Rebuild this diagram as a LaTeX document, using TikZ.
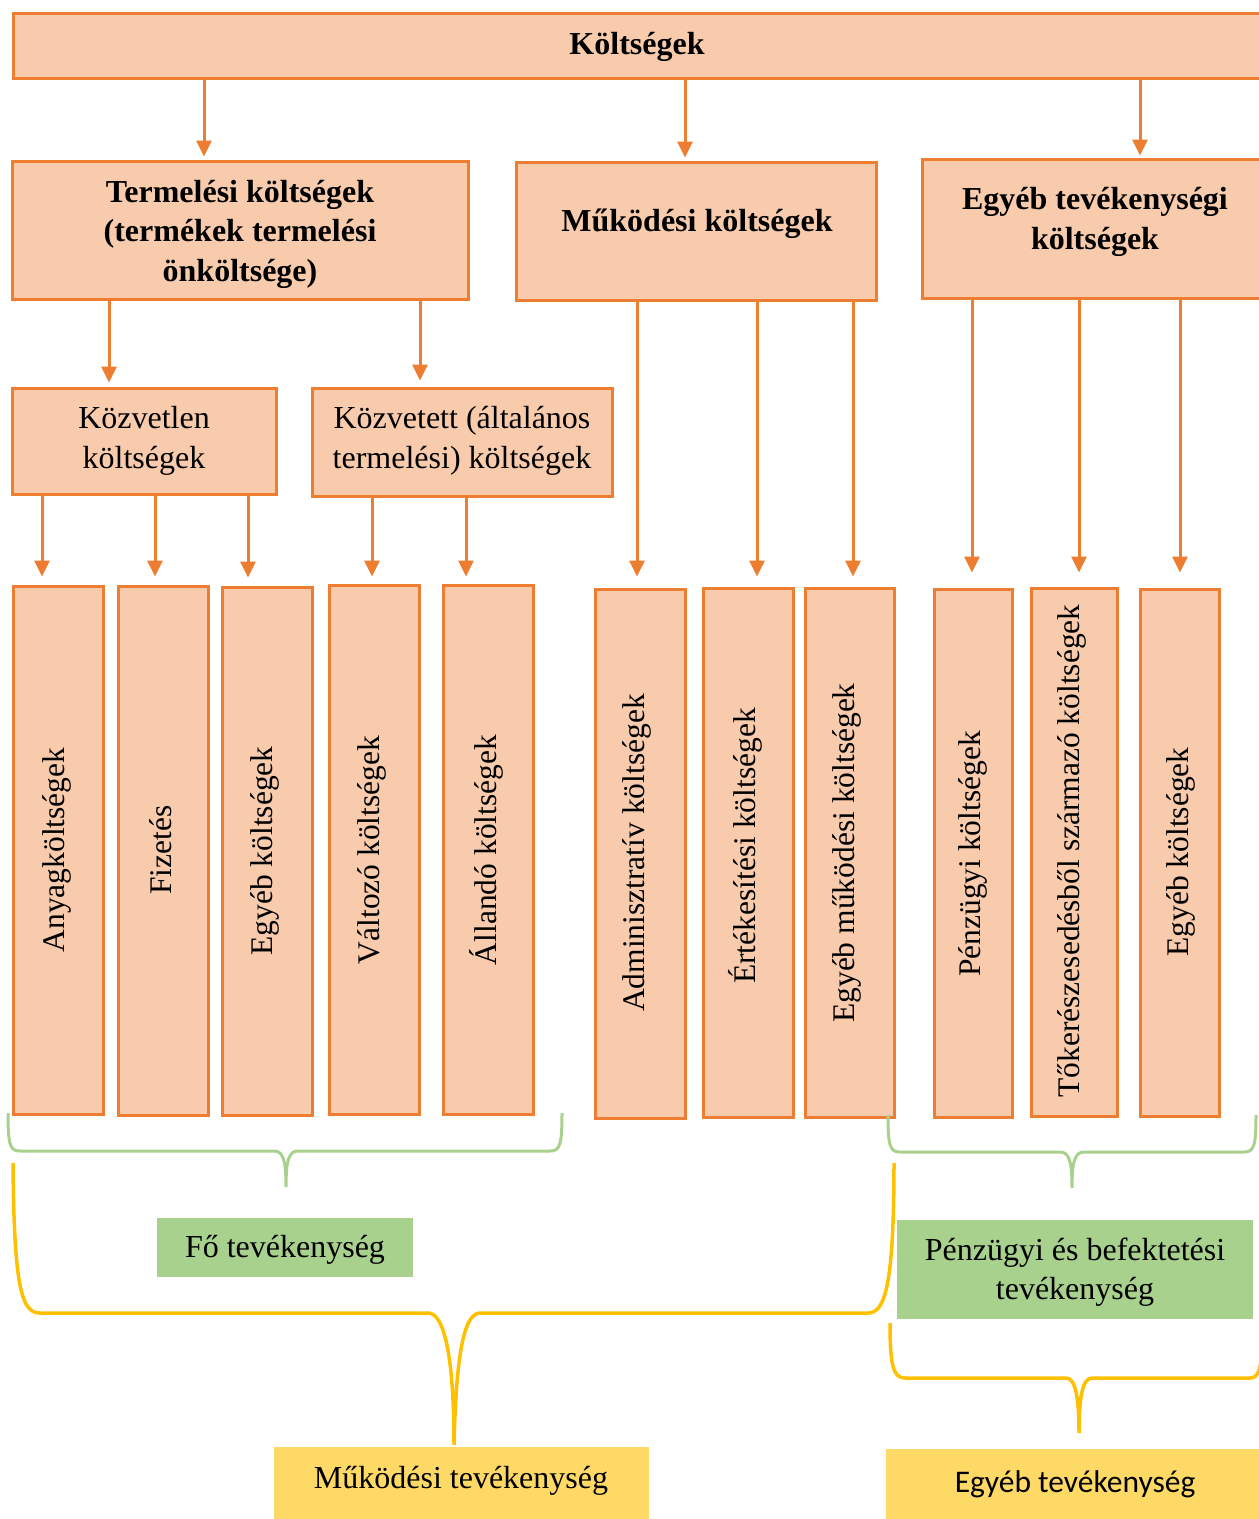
\documentclass[tikz,border=0pt]{standalone}
\usepackage{fontspec}
\setmainfont{Liberation Serif}
\newfontfamily\calib{Carlito}
\usetikzlibrary{arrows.meta}
\definecolor{oline}{HTML}{ED7D31}
\definecolor{ofill}{HTML}{F8CBAD}
\definecolor{gfill}{HTML}{A9D18E}
\definecolor{yfill}{HTML}{FFD966}
\definecolor{yline}{HTML}{FFC000}
\tikzset{
  obox/.style={draw=oline, fill=ofill, line width=3pt, inner sep=0pt},
  gbox/.style={fill=gfill, inner sep=0pt},
  ybox/.style={fill=yfill, inner sep=0pt},
  txt/.style={font=\fontsize{32}{39.5}\selectfont, align=center, inner sep=0pt},
  btxt/.style={font=\fontsize{32}{39.5}\selectfont\bfseries, align=center, inner sep=0pt},
  vtxt/.style={font=\fontsize{31.5}{38}\selectfont, rotate=90, inner sep=0pt},
  arr/.style={draw=oline, line width=3pt, -{Triangle[width=15pt,length=16pt]}, oline},
  gbrace/.style={draw=gfill, line width=3pt},
  ybrace/.style={draw=yline, line width=3.5pt},
}
\begin{document}
\begin{tikzpicture}[x=1pt,y=-1pt]
\path[use as bounding box] (0,0) rectangle (1259,1519);
\clip (0,0) rectangle (1259,1519);

% top level
\node[obox, minimum width=1252pt, minimum height=65pt] (top) at (639,45.5) {};
\node[btxt] (toptxt) at (637,47) {Költségek};

% second level
\node[obox, minimum width=456pt, minimum height=138pt] (term) at (240,230) {};
\node[btxt] (termtxt) at (240,234) {Termelési költségek\\(termékek termelési\\önköltsége)};
\node[obox, minimum width=360pt, minimum height=138pt] (muk) at (696,231) {};
\node[btxt] (muktxt) at (697,224) {Működési költségek};
\node[obox, minimum width=343pt, minimum height=139pt] (egy) at (1093.5,228.5) {};
\node[btxt] (egytxt) at (1095,222) {Egyéb tevékenységi\\költségek};

% third level
\node[obox, minimum width=264pt, minimum height=106pt] (kozv) at (144,441) {};
\node[txt] (kozvtxt) at (144,441) {Közvetlen\\költségek};
\node[obox, minimum width=300pt, minimum height=108pt] (kozt) at (462,442) {};
\node[txt] (kozttxt) at (462,441) {Közvetett (általános\\termelési) költségek};

% vertical boxes
\node[obox, minimum width=90pt, minimum height=528pt] (v1) at (58,850) {};
\node[vtxt] (t1) at (57,850) {Anyagköltségek};
\node[obox, minimum width=90pt, minimum height=529pt] (v2) at (163,850.5) {};
\node[vtxt] (t2) at (161,850) {Fizetés};
\node[obox, minimum width=90pt, minimum height=528pt] (v3) at (267,851) {};
\node[vtxt] (t3) at (265,851) {Egyéb költségek};
\node[obox, minimum width=90pt, minimum height=529pt] (v4) at (374,849.5) {};
\node[vtxt] (t4) at (372,850) {Változó költségek};
\node[obox, minimum width=90pt, minimum height=529pt] (v5) at (488,849.5) {};
\node[vtxt] (t5) at (486,850) {Állandó költségek};
\node[obox, minimum width=90pt, minimum height=529pt] (v6) at (640,853.5) {};
\node[vtxt] (t6) at (637,853) {Adminisztratív költségek};
\node[obox, minimum width=90pt, minimum height=529pt] (v7) at (748,852.5) {};
\node[vtxt] (t7) at (745,846) {Értékesítési költségek};
\node[obox, minimum width=89pt, minimum height=529pt] (v8) at (849.5,852.5) {};
\node[vtxt] (t8) at (847,853) {Egyéb működési költségek};
\node[obox, minimum width=78pt, minimum height=528pt] (v9) at (973,853) {};
\node[vtxt] (t9) at (973,854) {Pénzügyi költségek};
\node[obox, minimum width=86pt, minimum height=528pt] (v10) at (1074,852) {};
\node[vtxt] (t10) at (1072,851) {Tőkerészesedésből származó költségek};
\node[obox, minimum width=79pt, minimum height=527pt] (v11) at (1179.5,852.5) {};
\node[vtxt] (t11) at (1181,852) {Egyéb költségek};

% arrows
\draw[arr, shorten >=3pt] (top.south -| 204,0) -- (term.north -| 204,0);
\draw[arr, shorten >=3pt] (top.south -| 685,0) -- (muk.north -| 685,0);
\draw[arr, shorten >=2pt] (top.south -| 1140,0) -- (egy.north -| 1140,0);
\draw[arr, shorten >=4pt] (term.south -| 109,0) -- (kozv.north -| 109,0);
\draw[arr, shorten >=6pt] (term.south -| 420,0) -- (kozt.north -| 420,0);
\draw[arr, shorten >=8pt] (kozv.south -| 42,0) -- (v1.north -| 42,0);
\draw[arr, shorten >=8pt] (kozv.south -| 155,0) -- (v2.north -| 155,0);
\draw[arr, shorten >=8pt] (kozv.south -| 248,0) -- (v3.north -| 248,0);
\draw[arr, shorten >=7pt] (kozt.south -| 372,0) -- (v4.north -| 372,0);
\draw[arr, shorten >=7pt] (kozt.south -| 466,0) -- (v5.north -| 466,0);
\draw[arr, shorten >=11pt] (muk.south -| 637,0) -- (v6.north -| 637,0);
\draw[arr, shorten >=10pt] (muk.south -| 757,0) -- (v7.north -| 757,0);
\draw[arr, shorten >=10pt] (muk.south -| 853,0) -- (v8.north -| 853,0);
\draw[arr, shorten >=15pt] (egy.south -| 972,0) -- (v9.north -| 972,0);
\draw[arr, shorten >=14pt] (egy.south -| 1079,0) -- (v10.north -| 1079,0);
\draw[arr, shorten >=15pt] (egy.south -| 1180,0) -- (v11.north -| 1180,0);

% green braces
\draw[gbrace] (8,1113) .. controls (8,1145) and (10,1151) .. (20,1151) -- (274,1151)
  .. controls (283,1151) and (286,1160) .. (286,1187)
  .. controls (286,1160) and (289,1151) .. (298,1151) -- (550,1151)
  .. controls (560,1151) and (562,1145) .. (562,1113);
\draw[gbrace] (888,1115) .. controls (888,1146) and (890,1152) .. (900,1152) -- (1060,1152)
  .. controls (1069,1152) and (1072,1161) .. (1072,1188)
  .. controls (1072,1161) and (1075,1152) .. (1084,1152) -- (1244,1152)
  .. controls (1254,1152) and (1256,1146) .. (1256,1115);

% yellow braces
\draw[ybrace] (13,1163) .. controls (14,1290) and (22,1313) .. (40,1313) -- (428,1313)
  .. controls (445,1313) and (454,1360) .. (454,1445)
  .. controls (456,1360) and (463,1313) .. (480,1313) -- (868,1313)
  .. controls (884,1313) and (894,1290) .. (894,1163);
\draw[ybrace] (890,1323) .. controls (890,1365) and (893,1378) .. (905,1378) -- (1066,1378)
  .. controls (1075,1378) and (1079,1395) .. (1079,1433)
  .. controls (1079,1395) and (1083,1378) .. (1092,1378) -- (1250,1378)
  .. controls (1258,1378) and (1262,1370) .. (1262,1340);

% activity boxes
\node[gbox, minimum width=256pt, minimum height=59pt] (fo) at (285,1247.5) {};
\node[txt] (fotxt) at (285,1250) {Fő tevékenység};
\node[gbox, minimum width=356pt, minimum height=99pt] (penz) at (1075,1269.5) {};
\node[txt] (penztxt) at (1075,1272) {Pénzügyi és befektetési\\tevékenység};
\node[ybox, minimum width=375pt, minimum height=83pt] (mukt) at (461.5,1488.5) {};
\node[txt] (mukttxt) at (461,1481) {Működési tevékenység};
\node[ybox, minimum width=379pt, minimum height=81pt] (egyt) at (1075.5,1489.5) {};
\node[txt, font=\calib\fontsize{31.5}{38}\selectfont] (egyttxt) at (1075,1484) {Egyéb tevékenység};
\end{tikzpicture}
\end{document}
